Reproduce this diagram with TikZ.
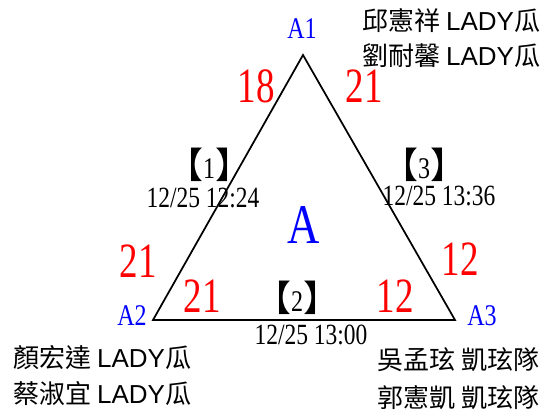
\documentclass[tikz,border=0pt]{standalone}
\usepackage{fontspec}
\setmainfont{Liberation Serif}[FakeStretch=0.8]
\newfontfamily\scorefont{Liberation Serif}[FakeStretch=0.75]
\newfontfamily\cjk{Noto Sans CJK TC}
\newfontfamily\arial{Liberation Sans}
\usepackage{tikz}

\newcommand{\gamebox}[1]{{\cjk\fontsize{27}{27}\selectfont 【}#1{\cjk\fontsize{27}{27}\selectfont 】}}

\tikzset{
  score/.style={red, inner sep=0pt, font=\scorefont\fontsize{37}{37}\selectfont},
  vertex/.style={blue, inner sep=0pt, font=\fontsize{22.5}{22.5}\selectfont},
  group/.style={blue, inner sep=0pt, font=\fontsize{42}{42}\selectfont},
  game/.style={inner sep=0pt, font=\fontsize{22.5}{22.5}\selectfont},
  stamp/.style={inner sep=0pt, font=\fontsize{22}{22}\selectfont},
  player/.style={inner sep=0pt, anchor=west, font=\fontsize{19.5}{19.5}\selectfont},
}

\begin{document}
\begin{tikzpicture}[x=0.75pt, y=-0.75pt]
\useasboundingbox (0,0) rectangle (547,419);
% triangle
\coordinate (c1) at (303,55);
\coordinate (c2) at (153,320);
\coordinate (c3) at (455,320);
\draw[line width=1.3pt, line join=miter] (c1) -- (c2) -- (c3) -- cycle;
% vertices
\node[vertex] (a1) at (302,29) {A1};
\node[vertex] (a2) at (132,316) {A2};
\node[vertex] (a3) at (482,316) {A3};
\node[group] (grp) at (304,225) {A};
% scores
\node[score] (s12) at (256,86) {18};
\node[score] (s13) at (364,86) {21};
\node[score] (s21) at (138,261) {21};
\node[score] (s23) at (202,296) {21};
\node[score] (s31) at (460,259) {12};
\node[score] (s32) at (395,296) {12};
% games
\node[game] (g1) at (209,165) {\gamebox{1}};
\node[stamp] (t1) at (203,198) {12/25 12:24};
\node[game] (g2) at (297,298) {\gamebox{2}};
\node[stamp] (t2) at (311,335) {12/25 13:00};
\node[game] (g3) at (424,165) {\gamebox{3}};
\node[stamp] (t3) at (439,196) {12/25 13:36};
% players
\node[player] (p1a) at (362,20) {\cjk 邱憲祥 \arial LADY\cjk 瓜};
\node[player] (p1b) at (362,56) {\cjk 劉耐馨 \arial LADY\cjk 瓜};
\node[player] (p2a) at (13,358) {\cjk 顏宏達 \arial LADY\cjk 瓜};
\node[player] (p2b) at (13,394) {\cjk 蔡淑宜 \arial LADY\cjk 瓜};
\node[player] (p3a) at (377,360) {\cjk 吳孟玹 凱玹隊};
\node[player] (p3b) at (377,398) {\cjk 郭憲凱 凱玹隊};
\end{tikzpicture}
\end{document}
